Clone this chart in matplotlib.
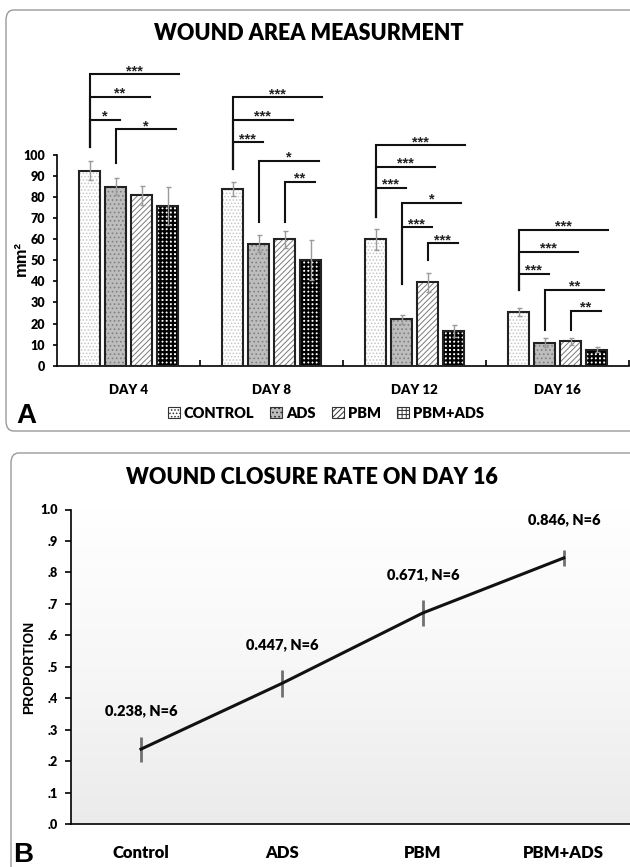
import numpy as np
import matplotlib
matplotlib.use("Agg")
import matplotlib.pyplot as plt
from matplotlib.patches import Patch, FancyBboxPatch
from matplotlib.colors import LinearSegmentedColormap

plt.rcParams['font.family'] = ['Lato', 'DejaVu Sans']
plt.rcParams['font.weight'] = 'heavy'
plt.rcParams['hatch.linewidth'] = 0.7

# ---------------------------------------------------------------- data (panel A)
days = ['DAY 4', 'DAY 8', 'DAY 12', 'DAY 16']
groups = ['CONTROL', 'ADS', 'PBM', 'PBM+ADS']
area_control = [92.5, 84, 60, 25.5]
area_ads = [85, 58, 22, 11]
area_pbm = [81, 60, 39.5, 11.5]
area_pbm_ads = [76, 50, 16.5, 7.6]
err_control = [4.5, 3.4, 5, 1.7]
err_ads = [4, 4, 2, 2]
err_pbm = [4.5, 4, 4.5, 1.6]
err_pbm_ads = [9, 9.5, 2.7, 1.3]

# significance brackets: day index, from bar, to bar, top, bottom, stars
br_day = [0, 0, 0, 0, 1, 1, 1, 1, 1, 2, 2, 2, 2, 2, 2, 3, 3, 3, 3, 3]
br_from = [0, 0, 0, 1, 0, 0, 0, 1, 2, 0, 0, 0, 1, 1, 2, 0, 0, 0, 1, 2]
br_to = [3, 2, 1, 3, 3, 2, 1, 3, 3, 3, 2, 1, 3, 2, 3, 3, 2, 1, 3, 3]
br_top = [138.3, 127.5, 116.6, 112.2, 127.4, 116.6, 106, 97.2, 87.3,
          104.6, 94.4, 84.5, 77.4, 65.7, 58.1, 64.5, 54.1, 43.4, 35.9, 26]
br_bottom = [103.7, 103.7, 103.7, 96.3, 93.2, 93.2, 93.2, 68.3, 68.3,
             70.7, 70.7, 70.7, 38.8, 38.8, 50.2, 35.9, 35.9, 35.9, 16.9, 16.9]
br_stars = ['***', '**', '*', '*', '***', '***', '***', '*', '**',
            '***', '***', '***', '*', '***', '***', '***', '***', '***', '**', '**']

# ---------------------------------------------------------------- data (panel B)
closure_groups = ['Control', 'ADS', 'PBM', 'PBM+ADS']
closure_rate = [0.238, 0.447, 0.671, 0.846]
closure_err = [0.04, 0.043, 0.04, 0.026]
closure_n = [6, 6, 6, 6]

# ---------------------------------------------------------------- styles
bar_face = ['white', '#bdbdbd', 'white', 'white']
bar_hatch = ['.....', '....', '//////', '++++']
hatch_col = ['#c4c4c4', '#808080', '#7a7a7a', '#000000']

W, H = 630, 867
fig = plt.figure(figsize=(W / 100, H / 100), dpi=100)


def fx(px):
    return px / W


def fy(py):
    return 1 - py / H


# panel frames
fig.patches.append(FancyBboxPatch((fx(6), fy(431)), fx(700), fy(10) - fy(431),
                                  boxstyle='round,pad=0,rounding_size=0.012',
                                  transform=fig.transFigure, fc='none', ec='#9a9a9a', lw=1))
fig.patches.append(FancyBboxPatch((fx(11), fy(900)), fx(700), fy(453) - fy(900),
                                  boxstyle='round,pad=0,rounding_size=0.012',
                                  transform=fig.transFigure, fc='none', ec='#9a9a9a', lw=1))

# ================================================================ panel A
axA = fig.add_axes([fx(57.3), fy(365.7), fx(629) - fx(57.3), fy(60) - fy(365.7)])
x = np.arange(len(days))
offsets = (np.arange(4) - 1.5) * 0.182
bw = 0.147
series = [area_control, area_ads, area_pbm, area_pbm_ads]
errs = [err_control, err_ads, err_pbm, err_pbm_ads]
for i in range(4):
    bars = axA.bar(x + offsets[i], series[i], bw, color=bar_face[i], hatch=bar_hatch[i],
                   edgecolor=hatch_col[i], linewidth=0, zorder=2)
    if i == 3:
        for b in bars:
            if hasattr(b, 'set_hatch_linewidth'):
                b.set_hatch_linewidth(1.6)
    axA.bar(x + offsets[i], series[i], bw, fill=False, edgecolor='#222222', linewidth=1.5, zorder=3)
    axA.errorbar(x + offsets[i], series[i], yerr=errs[i], fmt='none', ecolor='#9a9a9a',
                 elinewidth=1, capsize=1.8, capthick=1, zorder=4)

for d, a, b, top, bot, s in zip(br_day, br_from, br_to, br_top, br_bottom, br_stars):
    x0 = d + offsets[a]
    x1 = d + offsets[b] + 0.025 * (b - a) + 0.005
    axA.plot([x0, x0, x1], [bot, top, top], color='#111111', lw=1.5, zorder=5,
             solid_joinstyle='miter')
    axA.annotate(s, ((x0 + x1) / 2, top), xytext=(0, -0.5), textcoords='offset points',
                 ha='center', va='baseline', fontsize=10.5, color='#222222',
                 family='Liberation Sans', weight='bold')

axA.set_xlim(-0.5, 3.5)
axA.set_ylim(0, 145.1)
axA.set_yticks(np.arange(0, 101, 10))
axA.spines['left'].set_bounds(0, 100)
for sp in ['top', 'right']:
    axA.spines[sp].set_visible(False)
axA.spines['left'].set_linewidth(1.2)
axA.spines['bottom'].set_linewidth(1.2)
axA.tick_params(axis='y', direction='out', length=3, width=1.2, pad=6, labelsize=9)
axA.set_xticks(x)
axA.set_xticklabels(days, fontsize=9.5)
axA.tick_params(axis='x', length=0, pad=13)
axA.set_xticks(np.arange(0.5, 4, 1), minor=True)
axA.tick_params(axis='x', which='minor', direction='in', length=4, width=1.2)

fig.text(fx(21), fy(258.5), 'mm²', rotation=90, ha='center', va='center',
         fontsize=12, family='Liberation Sans', weight='bold')
fig.text(fx(309), fy(33.5), 'WOUND AREA MEASURMENT', ha='center', va='center', fontsize=15.5)
fig.text(fx(26.5), fy(416), 'A', ha='center', va='center', fontsize=20,
         family='Liberation Sans', weight='bold')

handles = [Patch(facecolor=bar_face[i], hatch=bar_hatch[i], edgecolor='#333333', lw=0.8)
           for i in range(4)]
fig.legend(handles, groups, loc='center', bbox_to_anchor=(fx(326), fy(413)), ncol=4,
           frameon=False, fontsize=10.5, handlelength=0.8, handleheight=0.8,
           handletextpad=0.3, columnspacing=1.1, borderaxespad=0)

# ================================================================ panel B
axB = fig.add_axes([fx(70.5), fy(824), 1 - fx(70.5), fy(509.5) - fy(824)])
grad = np.linspace(0, 1, 256).reshape(-1, 1)
cmap = LinearSegmentedColormap.from_list('bg', ['#ebebeb', '#f7f7f7', '#ffffff'])
axB.imshow(grad, cmap=cmap, aspect='auto', origin='lower',
           extent=[-0.5, 3.47, 0, 1.0], zorder=0)
xb = np.arange(len(closure_groups))
axB.errorbar(xb, closure_rate, yerr=closure_err, fmt='none', ecolor='#707070',
             elinewidth=2, capsize=0, zorder=2)
axB.plot(xb, closure_rate, color='#111111', lw=2.2, zorder=3)
for xi, v, e, n in zip(xb, closure_rate, closure_err, closure_n):
    axB.annotate('%.3f, N=%d' % (v, n), (xi, v), xytext=(0, 23), textcoords='offset points',
                 ha='center', va='bottom', fontsize=10.5)

axB.set_xlim(-0.5, 3.47)
axB.set_ylim(0, 1.0)
axB.set_yticks(np.arange(0, 1.01, 0.1))
axB.set_yticklabels(['.0', '.1', '.2', '.3', '.4', '.5', '.6', '.7', '.8', '.9', '1.0'])
for sp in ['top', 'right']:
    axB.spines[sp].set_visible(False)
axB.spines['left'].set_linewidth(1.2)
axB.spines['bottom'].set_linewidth(1.2)
axB.tick_params(axis='y', direction='out', length=4, width=1.2, pad=5, labelsize=9)
axB.set_xticks(xb)
axB.set_xticklabels(closure_groups, fontsize=12)
axB.tick_params(axis='x', length=0, pad=15)

fig.text(fx(29), fy(667), 'PROPORTION', rotation=90, ha='center', va='center',
         fontsize=10, family='Liberation Sans', weight='bold')
fig.text(fx(312), fy(477.7), 'WOUND CLOSURE RATE ON DAY 16', ha='center', va='center',
         fontsize=15.5)
fig.text(fx(23), fy(855), 'B', ha='center', va='center', fontsize=20,
         family='Liberation Sans', weight='bold')

fig.savefig('out.png', dpi=100)
